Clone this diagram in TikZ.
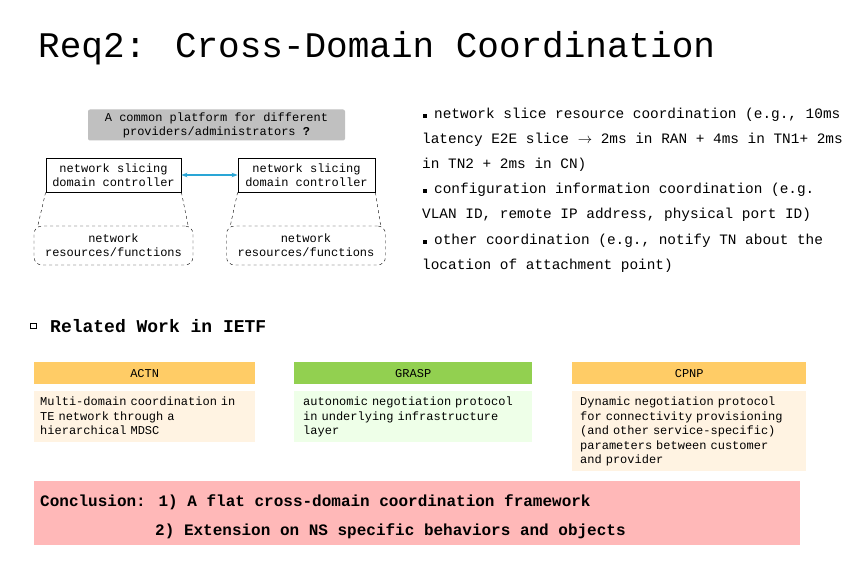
\documentclass[tikz,border=0pt]{standalone}
\usepackage{fontspec}
\setmainfont{Liberation Mono}
\usetikzlibrary{arrows.meta}
\definecolor{hdrorange}{HTML}{FFCC66}
\definecolor{bodyorange}{HTML}{FFF3E2}
\definecolor{hdrgreen}{HTML}{92D050}
\definecolor{bodygreen}{HTML}{EEFFE8}
\definecolor{concl}{HTML}{FFB8B8}
\definecolor{arrowc}{HTML}{2AA6D6}
\definecolor{platgray}{HTML}{C0C0C0}
\tikzset{
  ctrl/.style={draw,line width=0.8pt,minimum width=135pt,minimum height=34pt,align=center,font=\fontsize{12}{14}\selectfont,inner sep=0},
  res/.style={draw,dashed,rounded corners=8pt,minimum width=159pt,minimum height=39pt,align=center,font=\fontsize{12}{14}\selectfont,inner sep=0},
  bul/.style={anchor=west,font=\fontsize{14.4}{17}\selectfont,inner sep=0},
  hdr/.style={anchor=north west,minimum height=22pt,font=\fontsize{12}{14}\selectfont,inner sep=0},
  body/.style={anchor=north west,align=left,text width=#1,font=\fontsize{12}{14.5}\selectfont,inner sep=6pt},
  sq/.style={draw,fill=black,minimum size=3.5pt,inner sep=0}
}
\begin{document}
\begin{tikzpicture}[x=1pt,y=-1pt]
\useasboundingbox[fill=white] (0,0) rectangle (851,567);
\node[anchor=west,font=\fontsize{36}{40}\selectfont,inner sep=0] (title) at (38,48) {Req2: Cross-Domain Coordination};

\node[fill=platgray,rounded corners=2pt,minimum width=257pt,minimum height=31pt,align=center,font=\fontsize{12}{14}\selectfont,inner sep=0] (plat) at (216.5,125) {A common platform for different\\providers/administrators \textbf{?}};
\node[ctrl] (c1) at (113.5,175) {network slicing\\domain controller};
\node[ctrl,minimum width=137pt] (c2) at (306.5,175) {network slicing\\domain controller};
\draw[arrowc,line width=2pt,{Stealth[length=6pt]}-{Stealth[length=6pt]}] (c1.east) -- (c2.west);
\node[res] (r1) at (113.5,245.5) {network\\resources/functions};
\node[res] (r2) at (306,245.5) {network\\resources/functions};
\draw[dashed] (c1.south west) -- ([xshift=4pt]r1.north west);
\draw[dashed] (c1.south east) -- ([xshift=-5pt]r1.north east);
\draw[dashed] (c2.south west) -- ([xshift=4pt]r2.north west);
\draw[dashed] (c2.south east) -- ([xshift=-5pt]r2.north east);

\node[sq,minimum size=3pt] (b1) at (424.5,116) {};
\node[bul] (t1) at (434,115) {network slice resource coordination (e.g., 10ms};
\node[bul] (t2) at (422,140) {latency E2E slice $\rightarrow$ 2ms in RAN + 4ms in TN1+ 2ms};
\node[bul] (t3) at (422,165) {in TN2 + 2ms in CN)};
\node[sq,minimum size=3pt] (b2) at (424.5,191) {};
\node[bul] (t4) at (434,190) {configuration information coordination (e.g.};
\node[bul] (t5) at (422,215) {VLAN ID, remote IP address, physical port ID)};
\node[sq,minimum size=3pt] (b3) at (424.5,242) {};
\node[bul] (t6) at (434,241) {other coordination (e.g., notify TN about the};
\node[bul] (t7) at (422,266) {location of attachment point)};

\node[draw,line width=1pt,minimum width=6pt,minimum height=5pt,inner sep=0] (rsq) at (33,326) {};
\node[anchor=west,font=\fontsize{18}{20}\selectfont\bfseries,inner sep=0] (rw) at (50,326) {Related Work in IETF};

\node[hdr,fill=hdrorange,minimum width=221pt] (h1) at (34,362) {ACTN};
\node[hdr,fill=hdrgreen,minimum width=238pt] (h2) at (294,362) {GRASP};
\node[hdr,fill=hdrorange,minimum width=234pt] (h3) at (572,362) {CPNP};
\fill[bodyorange] (34,391) rectangle (255,442);
\fill[bodygreen] (294,391) rectangle (532,442);
\fill[bodyorange] (572,391) rectangle (806,471);
\node[body=209pt] (m1) at (34,391) {Multi-domain coordination in\\TE network through a\\hierarchical MDSC};
\node[body=226pt] (m2) at (297,391) {autonomic negotiation protocol\\in underlying infrastructure\\layer};
\node[body=222pt] (m3) at (574,391) {Dynamic negotiation protocol\\for connectivity provisioning\\(and other service-specific)\\parameters between customer\\and provider};

\fill[concl] (34,481) rectangle (800,545);
\node[anchor=west,font=\fontsize{16}{18}\selectfont\bfseries,inner sep=0] (k1) at (40,502) {Conclusion: 1) A flat cross-domain coordination framework};
\node[anchor=west,font=\fontsize{16}{18}\selectfont\bfseries,inner sep=0] (k2) at (155,531) {2) Extension on NS specific behaviors and objects};
\end{tikzpicture}
\end{document}
